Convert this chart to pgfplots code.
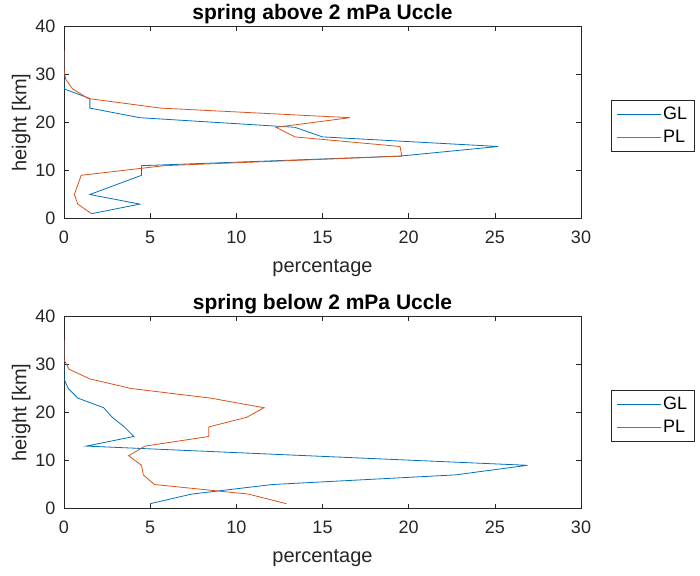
\documentclass[border=0pt]{standalone}
\usepackage{pgfplots}
\pgfplotsset{compat=1.18}
\usepackage{fontspec}
\setmainfont{Liberation Sans}
\definecolor{mblue}{rgb}{0,0.447,0.741}
\definecolor{morange}{rgb}{0.85,0.325,0.098}
\definecolor{axgray}{rgb}{0.15,0.15,0.15}
\pgfplotsset{
  mystyle/.style={
    scale only axis, width=517pt, height=192pt,
    xmin=0,xmax=30,ymin=0,ymax=40,
    xtick={0,5,...,30}, ytick={0,10,...,40},
    /pgf/number format/assume math mode=true,
    tick label style={font=\fontsize{18}{20}\selectfont, text=axgray},
    xticklabel style={yshift=-9pt},
    yticklabel style={xshift=-5pt},
    label style={font=\fontsize{20}{22}\selectfont, text=axgray},
    xlabel style={yshift=-9pt},
    ylabel style={yshift=-2pt},
    title style={font=\fontsize{21}{23}\selectfont\bfseries, text=black, yshift=-7pt},
    axis line style={axgray, line width=0.6pt},
    major tick style={axgray, line width=0.6pt},
    major tick length=5pt,
    tick align=inside,
    xlabel={percentage}, ylabel={height [km]},
    legend style={at={(1.058,0.484)}, anchor=west, draw=axgray, line width=0.6pt,
      font=\fontsize{18}{20}\selectfont, inner xsep=5pt, inner ysep=5pt,
      row sep=5pt},
    legend cell align=left,
    legend image code/.code={\draw[#1, line width=0.8pt] (0pt,0pt) -- (44pt,0pt);},
    every axis plot/.append style={line width=0.8pt},
  }
}
\begin{document}
\begin{tikzpicture}
\path[use as bounding box] (0pt,0pt) rectangle (700pt,575pt);
\begin{axis}[mystyle, at={(64pt,356.5pt)}, anchor=south west,
  title={spring above 2 mPa Uccle}]
\addplot[draw=mblue] coordinates {(1.6,1) (4.4,3) (1.5,5) (3,7) (4.5,9) (4.5,11) (19.5,13) (25.2,15) (15,17) (13.4,19) (4.4,21) (1.5,23) (1.5,25) (0,27) (0,29) (0,31) (0,33) (0,35)};
\addlegendentry{GL}
\addplot[draw=morange] coordinates {(1.6,1) (0.8,3) (0.6,5) (0.8,7) (1.0,9) (5.8,11) (19.6,13) (19.5,15) (13.4,17) (12.3,19) (16.6,21) (5.6,23) (1.4,25) (0.5,27) (0.1,29) (0,31) (0,33) (0,35)};
\addlegendentry{PL}
\end{axis}
\begin{axis}[mystyle, at={(64pt,66.5pt)}, anchor=south west,
  title={spring below 2 mPa Uccle}]
\addplot[draw=mblue] coordinates {(5.0,1) (7.4,3) (12.1,5) (22.7,7) (26.9,9) (14.1,11) (1.3,13) (4.05,15) (3.5,17) (2.8,19) (2.3,21) (0.8,23) (0.25,25) (0,27) (0,29) (0,31) (0,33) (0,35)};
\addlegendentry{GL}
\addplot[draw=morange] coordinates {(12.9,1) (10.7,3) (5.25,5) (4.6,7) (4.5,9) (3.75,11) (4.7,13) (8.4,15) (8.4,17) (10.6,19) (11.6,21) (8.5,23) (3.9,25) (1.5,27) (0.3,29) (0,31) (0,33) (0,35)};
\addlegendentry{PL}
\end{axis}
\end{tikzpicture}
\end{document}
